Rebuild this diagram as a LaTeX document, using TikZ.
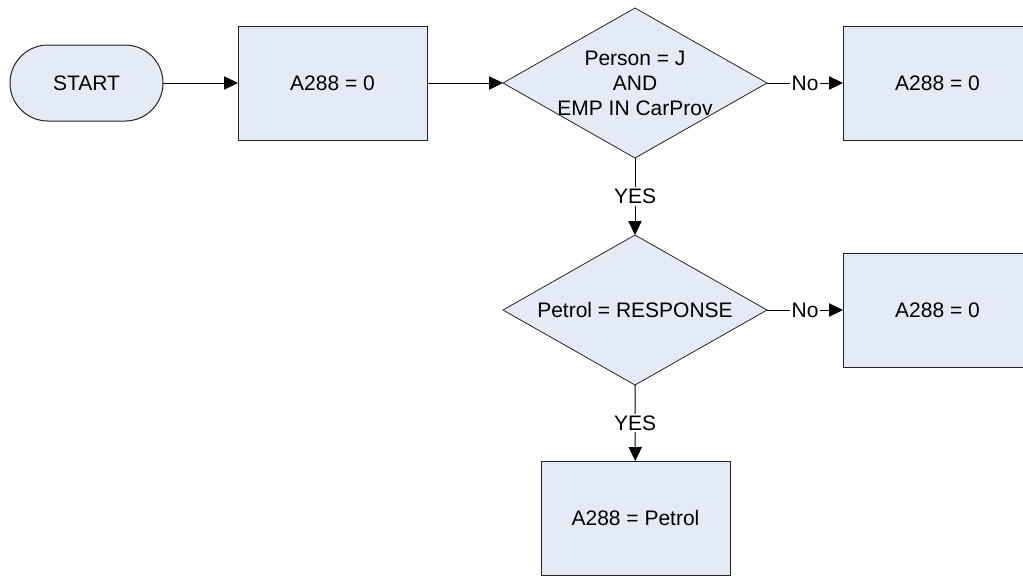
\documentclass[tikz,border=0pt]{standalone}
\usepackage{fontspec}
\setmainfont{Liberation Sans}
\usepackage{xcolor}
\usetikzlibrary{shapes.geometric, arrows.meta, positioning}
\definecolor{flowfill}{RGB}{229,235,246}
\definecolor{flowline}{RGB}{35,35,35}
\newcommand{\flowsize}{\fontsize{15.75pt}{18.75pt}\selectfont}
\tikzset{
  termbox/.style={
    draw=flowline, fill=flowfill, line width=0.75pt,
    rounded corners=28.5pt, minimum width=114.75pt,
    minimum height=57pt, outer sep=0pt
  },
  procbox/.style={
    draw=flowline, fill=flowfill, line width=0.75pt,
    minimum width=141.75pt, minimum height=85.5pt, outer sep=0pt
  },
  decbox/.style={
    diamond, draw=flowline, fill=flowfill, line width=0.6pt,
    minimum width=198pt, minimum height=112.5pt,
    inner sep=0pt, outer sep=0pt
  },
  flowarrow/.style={
    -{Triangle[length=10.5pt,width=10pt]}, line width=0.75pt
  },
  flowlabel/.style={
    fill=white, inner sep=1.2pt
  },
}

\begin{document}
\begin{tikzpicture}[
  x=0.75pt, y=-0.75pt,
  every node/.style={font=\flowsize},
]
  \useasboundingbox (0,0) rectangle (1023,575);

  % ── Top row ────────────────────────────────────────────────────
  \node[termbox] (start) at (86.5, 83) {START};
  \node[procbox] (init) at (332.5, 83) {A288 = 0};
  \node[decbox, label={[align=center]center:Person = J\\AND\\EMP IN CarProv}]
    (cond1) at (635, 83) {};
  \node[procbox] (no1) at (937.5, 83) {A288 = 0};

  % ── Second decision ────────────────────────────────────────────
  \node[decbox, label={center:Petrol = RESPONSE}]
    (cond2) at (635, 310) {};
  \node[procbox] (no2) at (937.5, 310) {A288 = 0};

  % result
  \node[procbox] (res) at (635.5, 518) {A288 = Petrol};

  % ── Connectors ─────────────────────────────────────────────────
  \draw[flowarrow] (start) -- (init);
  \draw[flowarrow] (init) -- (cond1.west);
  \draw[flowarrow] (cond1.east) -- node[flowlabel] {No} (no1);
  \draw[flowarrow] (cond1.south) -- node[flowlabel] {YES} (cond2.north);
  \draw[flowarrow] (cond2.east) -- node[flowlabel] {No} (no2);
  \draw[flowarrow] (cond2.south) -- node[flowlabel] {YES} (res);
\end{tikzpicture}
\end{document}
